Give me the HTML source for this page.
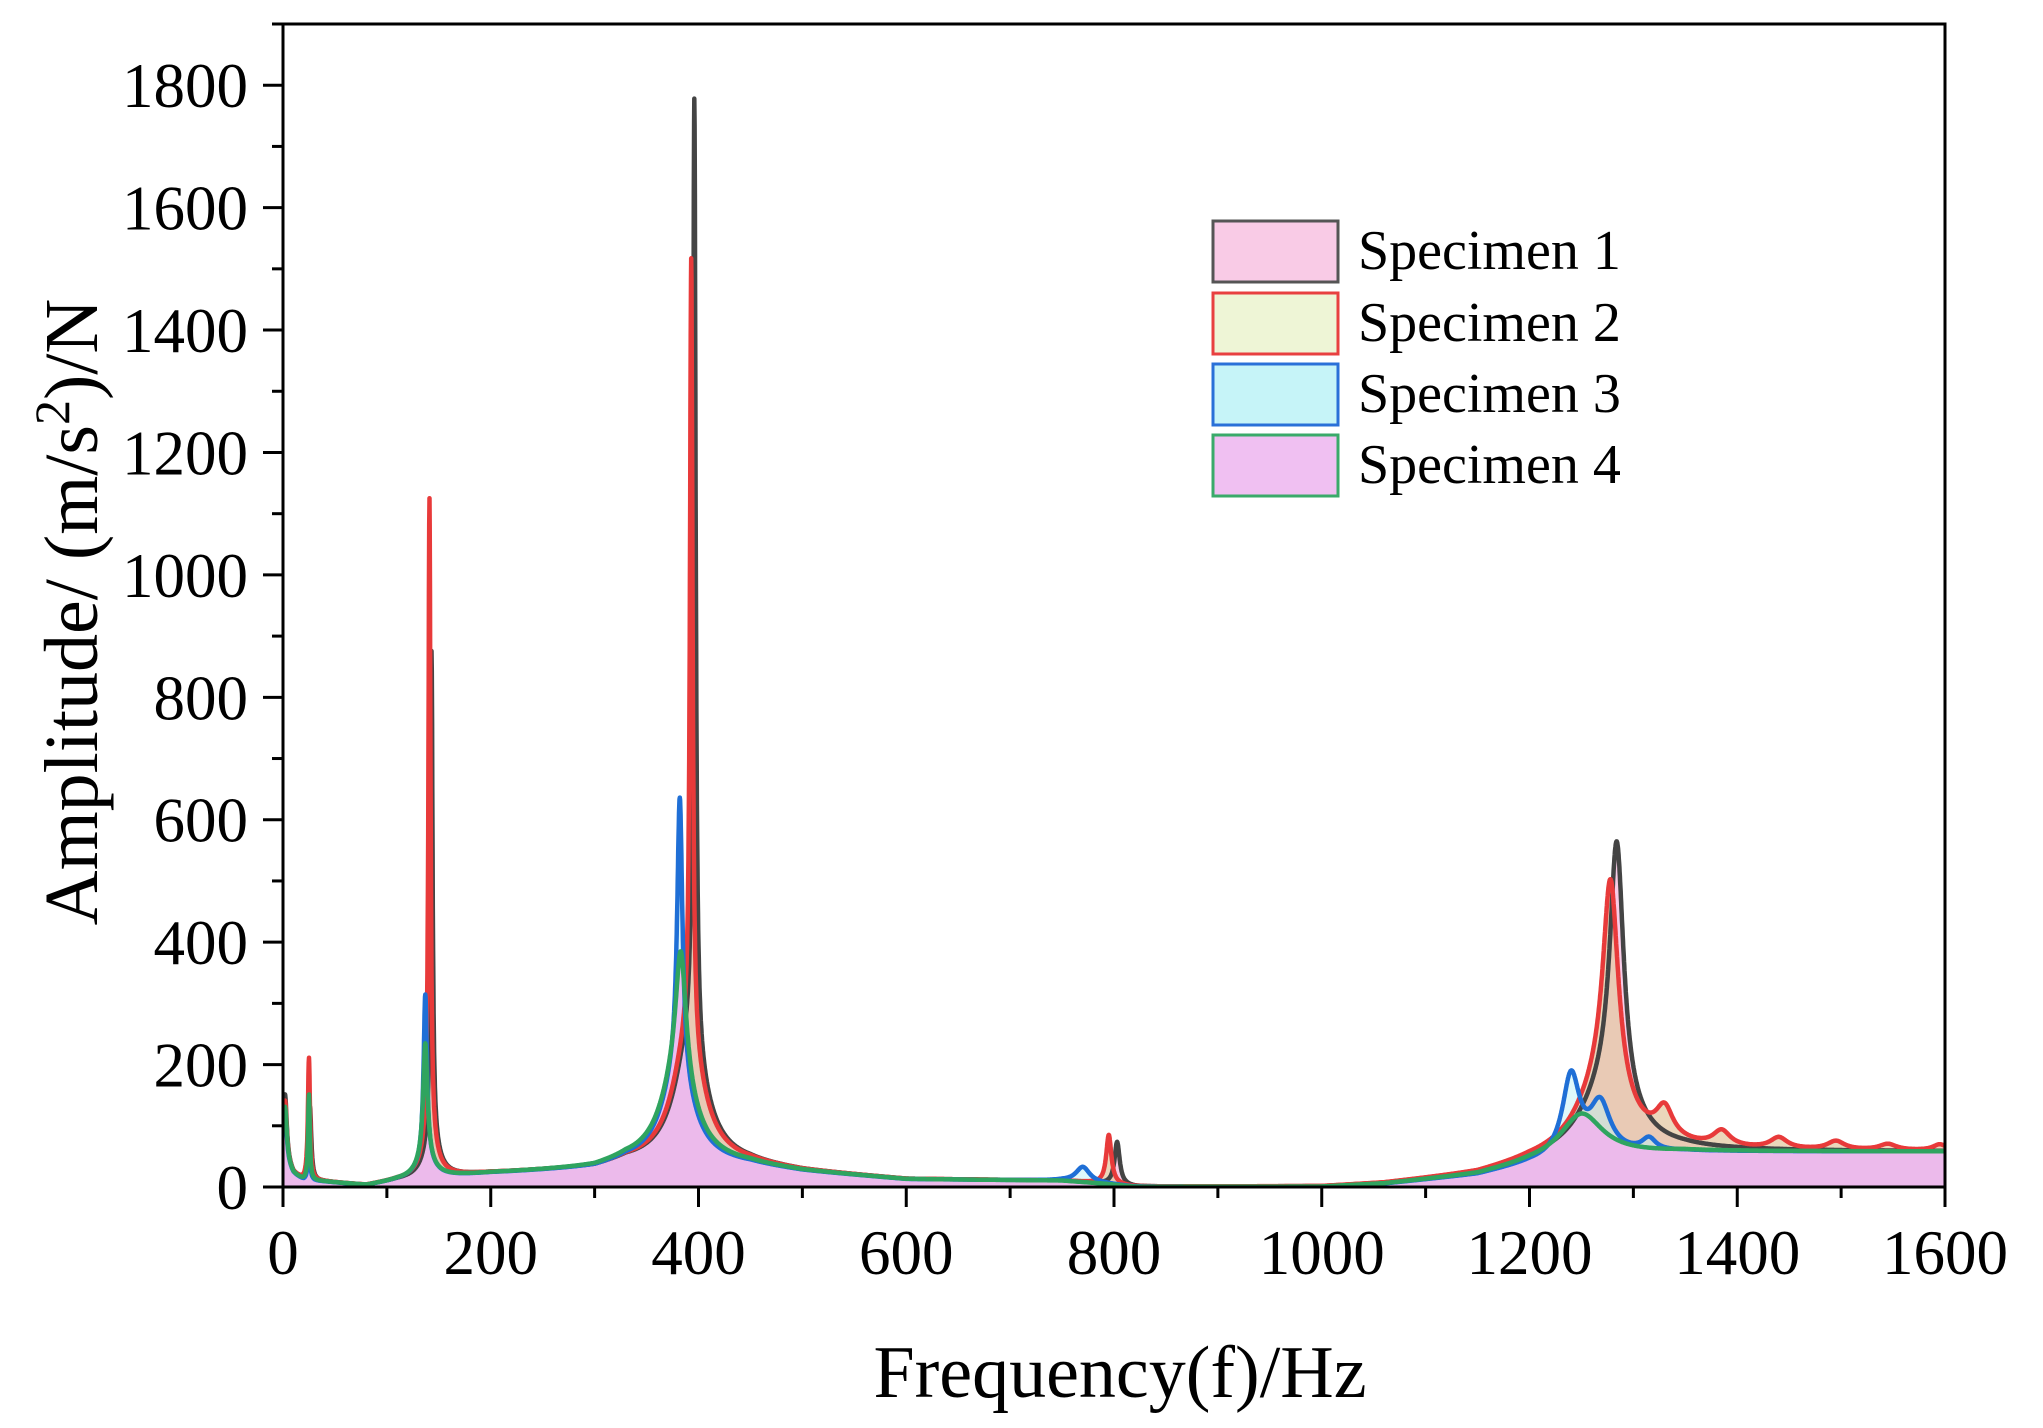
<!DOCTYPE html>
<html><head><meta charset="utf-8"><style>
html,body{margin:0;padding:0;background:#fff}
svg{display:block;font-family:"Liberation Serif",serif}
</style></head><body>
<svg id="s" width="2043" height="1428" viewBox="0 0 2043 1428" xmlns="http://www.w3.org/2000/svg">
<defs>
<clipPath id="cp"><rect x="283" y="24" width="1662" height="1163"/></clipPath>
</defs>
<g id="fills" clip-path="url(#cp)"></g>
<g id="lines" clip-path="url(#cp)" fill="none" stroke-linejoin="round"></g>
<rect x="283" y="24" width="1662" height="1163" fill="none" stroke="#000" stroke-width="3"/>
<g id="ticks" stroke="#000" stroke-width="3"></g>
<g id="labels" font-size="63" fill="#000"></g>
<text x="1120" y="1397" font-size="74" text-anchor="middle">Frequency(f)/Hz</text>
<text transform="translate(97,612) rotate(-90)" font-size="76" text-anchor="middle">Amplitude/ (m/s<tspan dy="-28" font-size="50">2</tspan><tspan dy="28">)/N</tspan></text>
<g font-size="56">
<rect x="1213" y="221" width="125" height="61" fill="#f9cbe6" stroke="#555" stroke-width="3"/>
<rect x="1213" y="293" width="125" height="61" fill="#eef5d6" stroke="#e84040" stroke-width="3"/>
<rect x="1213" y="364" width="125" height="61" fill="#c6f4f8" stroke="#2a70d8" stroke-width="3"/>
<rect x="1213" y="435" width="125" height="61" fill="#f0c0f2" stroke="#3aaa6a" stroke-width="3"/>
<text x="1358" y="269">Specimen 1</text>
<text x="1358" y="341">Specimen 2</text>
<text x="1358" y="412">Specimen 3</text>
<text x="1358" y="483">Specimen 4</text>
</g>
</svg>
<script>
var X0=283,X1=1945,Y0=1187,ppx=(X1-X0)/1600,ppy=(1187-24)/1900;
function X(f){return X0+f*ppx}function Y(v){return Y0-v*ppy}
var bp=[[0,45],[10,20],[20,10],[40,8],[80,2],[110,10],[200,22],[300,30],[330,40],[450,35],[500,25],[600,12],[750,10],[790,5],[820,0],[1000,0],[1060,5],[1150,20],[1200,38],[1250,50],[1350,58],[1600,58]];
function base(f){for(var i=1;i<bp.length;i++){if(f<=bp[i][0]){var a=bp[i-1],b=bp[i];return a[1]+(b[1]-a[1])*(f-a[0])/(b[0]-a[0]);}}return 58}
var S=[
{c:"#444",fill:"#f7c6e4",fo:0.9,p:[[2,110,2],[26,120,1.5],[143,800,1.2],[143,60,8],[396,1550,1.5],[392,200,18],[803,70,3],[1284,420,8],[1275,100,30]]},
{c:"#e83a3a",fill:"#e4c9a4",fo:0.75,p:[[2,100,2],[25,200,1.2],[141,1050,1.2],[141,60,8],[393,1285,1.5],[390,200,18],[795,80,3],[1278,355,9],[1270,100,30],[1330,50,10],[1385,25,10],[1440,18,10],[1495,14,10],[1545,10,10],[1595,10,8]]},
{c:"#1f6fd6",fill:"#bff2f6",fo:0.5,p:[[2,80,2],[25,80,1],[137,270,2],[137,30,10],[382,450,3],[380,150,18],[770,25,8],[1240,130,10],[1268,80,12],[1315,20,8]]},
{c:"#2fa45f",fill:"#f0b4ee",fo:0.85,p:[[2,90,2],[25,140,1],[137,190,2.5],[137,30,10],[383,210,6],[380,140,20],[1250,70,25]]}];
function val(s,f){var v=base(f);s.p.forEach(function(q){var d=f-q[0];v+=q[1]*q[2]*q[2]/(d*d+q[2]*q[2]);});return v}
var fh="",lh="";
S.forEach(function(s){var pts=[];for(var f=0;f<=1600;f+=0.25){pts.push(X(f).toFixed(1)+","+Y(val(s,f)).toFixed(1));}
fh+='<polygon points="'+X(0)+','+Y0+' '+pts.join(" ")+' '+X(1600)+','+Y0+'" fill="'+s.fill+'" fill-opacity="'+s.fo+'"/>';
lh+='<polyline points="'+pts.join(" ")+'" stroke="'+s.c+'" stroke-width="4.5"/>';});
document.getElementById("fills").innerHTML=fh;document.getElementById("lines").innerHTML=lh;
var t="",l="";
for(var f=0;f<=1600;f+=100){var x=X(f),maj=f%200==0;t+='<line x1="'+x+'" y1="'+Y0+'" x2="'+x+'" y2="'+(Y0+(maj?20:11))+'"/>';if(maj)l+='<text x="'+x+'" y="1274" text-anchor="middle">'+f+'</text>';}
for(var v=0;v<=1900;v+=100){var y=Y(v),maj=v%200==0;t+='<line x1="'+X0+'" y1="'+y+'" x2="'+(X0-(maj?20:11))+'" y2="'+y+'"/>';if(maj&&v<=1800)l+='<text x="248" y="'+(y+22)+'" text-anchor="end">'+v+'</text>';}
document.getElementById("ticks").innerHTML=t;document.getElementById("labels").innerHTML=l;
</script>
</body></html>
